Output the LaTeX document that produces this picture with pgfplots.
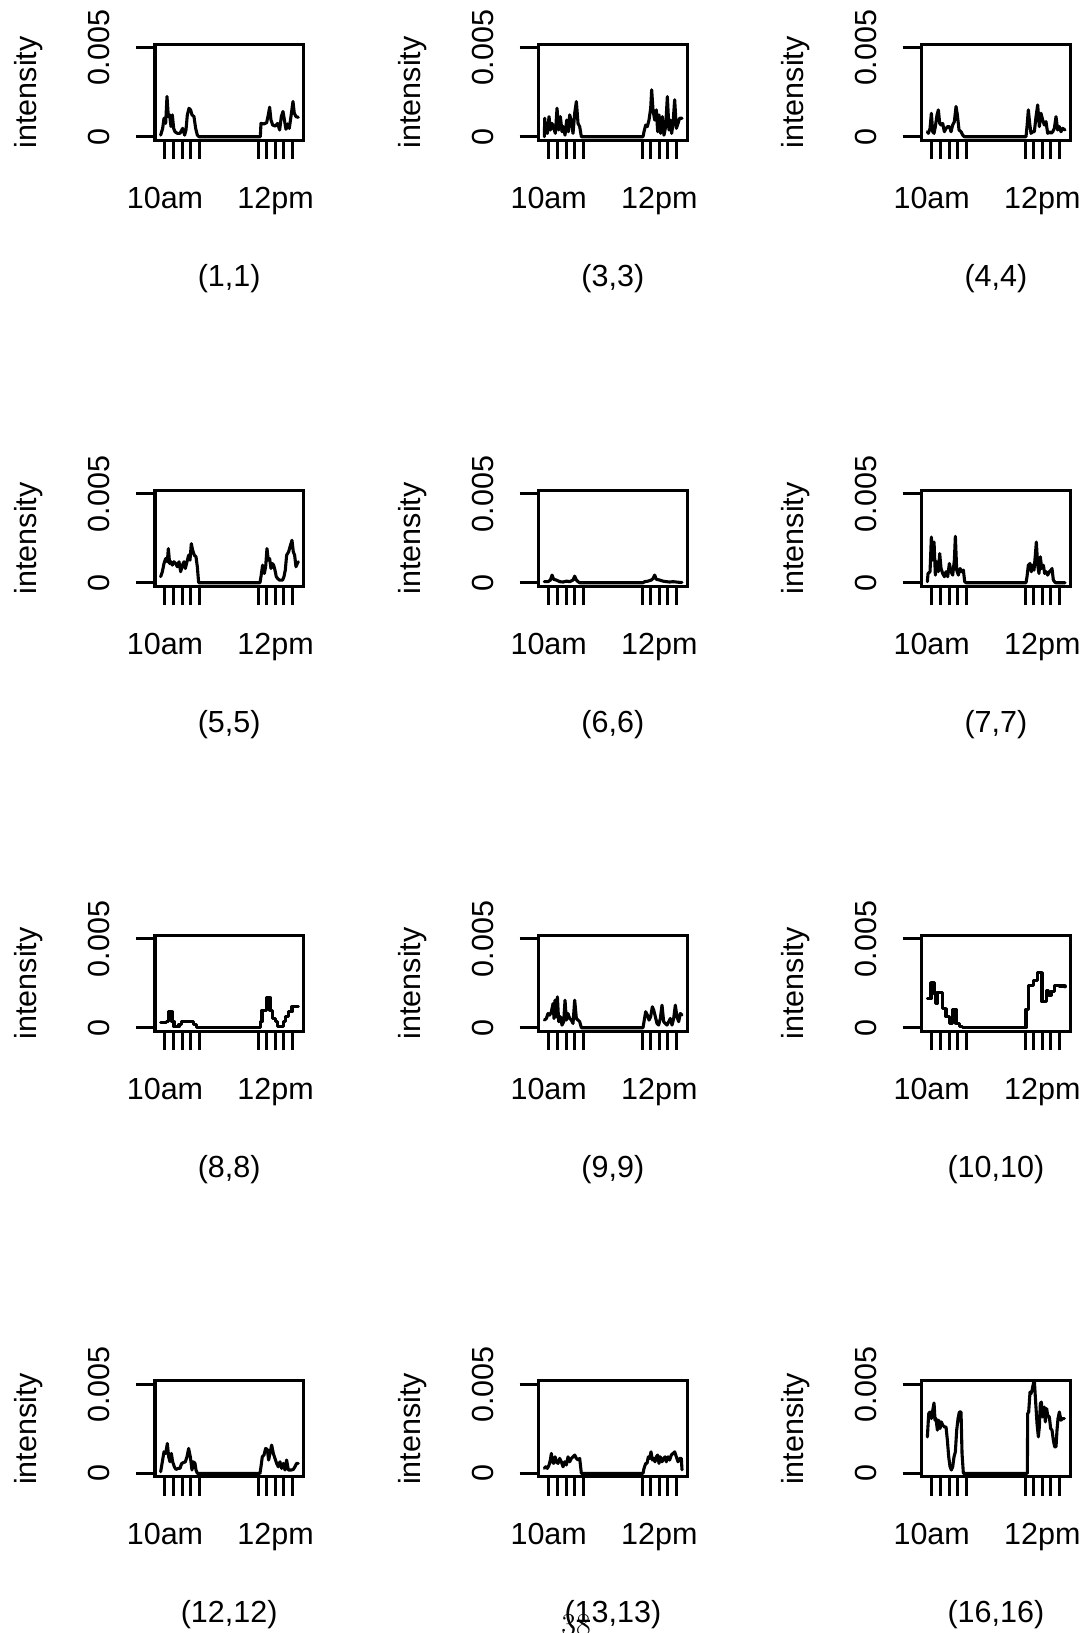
\documentclass[border=0pt]{standalone}
\usepackage{fontspec}
\setsansfont{Liberation Sans}
\renewcommand\familydefault{\sfdefault}
\usepackage{pgfplots}
\pgfplotsset{compat=1.18}
\pgfplotsset{
  panel/.style={
    scale only axis, width=148.3pt, height=96pt, anchor=south west,
    xmin=465, xmax=910, ymin=-0.2, ymax=5.2,
    xtick={495,521,547,572,598,775,801,827,852,878},
    xticklabels={10am,{},{},{},{},{},{},12pm,{},{}},
    ytick={0,5}, yticklabels={0,0.005},
    tick pos=left, tick align=outside, major tick length=19pt,
    major tick style={black, line width=3pt},
    tick style={black, line width=3pt},
    line width=3pt,
    axis line style={line width=3pt},
    xticklabel style={anchor=base, yshift=-49pt, inner sep=0pt},
    yticklabel style={xshift=-37pt, rotate=90, anchor=center, inner sep=0pt},
    xlabel style={at={(axis description cs:0.5,0)}, anchor=base, yshift=-146pt, inner sep=0pt},
    ylabel={intensity},
    ylabel style={at={(axis description cs:-0.852,0.5)}, anchor=center, inner sep=0pt},
  },
  dat/.style={black, line width=3.1pt, line join=round, line cap=round, mark=none},
}
\newcommand{\panel}[5]{%
  \begin{axis}[panel, at={(#1pt,#2pt)}, xlabel={#3}]
  \addplot[dat,#4] coordinates {#5};
  \end{axis}}
\begin{document}
\fontsize{30.5pt}{36pt}\selectfont
\begin{tikzpicture}
\path[use as bounding box] (0pt,0pt) rectangle (1089pt,1633pt);
% row 1
\panel{155}{1492.7}{(1,1)}{}{(482,0.09) (488,0.47) (492,1.04) (497,0.75) (501,2.26) (505,1.13) (509,1.23) (513,0.57) (517,1.23) (521,0.47) (525,0.28) (532,0.19) (540,0.19) (548,0.47) (554,0.09) (558,0.38) (562,1.23) (567,1.6) (572,1.5) (576,1.23) (582,1.13) (587,0.47) (592,0.09) (597,0) (781,0) (783,0.75) (792,0.72) (800,0.79) (805,1.23) (809,1.66) (813,0.94) (818,0.66) (826,0.6) (833,0.75) (839,0.38) (844,1.13) (849,1.42) (853,0.98) (858,0.42) (863,0.72) (868,0.47) (873,1.13) (879,1.98) (883,1.32) (888,1.13) (895,1.09)}
\panel{538.7}{1492.7}{(3,3)}{}{(482,0) (483,1.04) (486,0.28) (491,0.19) (496,1.13) (500,0.38) (505,0.75) (510,0.47) (515,0.19) (520,1.6) (525,0.38) (530,1.13) (535,0.28) (539,0.57) (544,0.09) (549,0.94) (554,0.28) (558,1.23) (563,0.85) (568,0.19) (573,1.32) (578,1.98) (583,0.75) (588,0.57) (593,0) (778,0) (781,0.28) (786,0.66) (791,0.57) (796,0.94) (801,1.6) (804,2.64) (808,1.51) (813,0.94) (818,1.51) (822,0.28) (826,1.23) (831,0.19) (836,1.13) (841,0.09) (846,0.57) (851,2.26) (856,0.38) (860,0.94) (864,0.19) (868,0.75) (873,2.08) (878,0.47) (883,0.75) (888,1.04) (895,1.04)}
\panel{921.7}{1492.7}{(4,4)}{}{(482,0.28) (485,0.19) (490,0.47) (494,1.32) (498,0.28) (502,0.19) (506,0.57) (511,1.23) (515,1.51) (519,0.75) (523,0.66) (528,0.75) (533,0.28) (538,0.47) (543,0.57) (548,0.57) (553,0.28) (558,0.66) (563,0.85) (568,1.7) (572,1.23) (577,0.38) (583,0.28) (588,0.09) (593,0) (778,0) (781,0.57) (785,1.51) (789,0.75) (793,0.19) (798,0.28) (803,0.28) (808,1.13) (813,1.79) (818,0.57) (823,1.32) (828,0.94) (833,0.66) (838,0.85) (843,0.19) (848,0.28) (853,0.19) (858,0.28) (863,0.47) (868,1.13) (873,0.38) (878,0.57) (883,0.28) (888,0.47) (895,0.38)}
% row 2
\panel{155}{1046.7}{(5,5)}{}{(482,0.34) (487,0.62) (492,1.08) (497,1.36) (502,1.18) (505,1.92) (509,1.08) (513,1.18) (517,0.99) (522,1.18) (527,1.08) (532,0.9) (537,1.18) (542,0.62) (547,0.99) (552,1.18) (556,0.8) (561,1.18) (566,1.55) (570,1.27) (574,2.2) (578,1.83) (583,1.55) (588,1.46) (592,0.9) (596,0) (780,0) (783,0.34) (788,0.99) (793,0.52) (797,0.9) (801,1.92) (805,1.27) (809,1.36) (813,0.8) (817,1.08) (821,0.99) (825,0.71) (829,0.34) (833,0.24) (838,0.15) (848,0.15) (852,0.34) (856,0.71) (860,1.55) (866,1.74) (870,2.01) (876,2.39) (880,1.74) (884,1.55) (888,0.9) (892,1.08) (895,1.18)}
\panel{538.7}{1046.7}{(6,6)}{}{(482,0.06) (493,0.06) (500,0.15) (505,0.43) (510,0.19) (518,0.15) (528,0.06) (538,0.04) (548,0.09) (558,0.06) (568,0.15) (573,0.37) (578,0.15) (583,0.06) (588,0) (778,0) (783,0.06) (793,0.09) (803,0.15) (808,0.24) (813,0.43) (818,0.19) (828,0.15) (838,0.09) (848,0.06) (858,0.04) (868,0.06) (878,0.04) (888,0.02) (895,0.02)}
\panel{921.7}{1046.7}{(7,7)}{}{(482,0.06) (484,0.52) (490,0.62) (494,2.57) (498,1.27) (502,2.29) (506,0.43) (510,1.18) (515,0.62) (519,1.64) (523,0.8) (528,0.52) (533,0.34) (538,0.62) (543,0.34) (548,1.08) (553,0.62) (558,0.43) (563,1.27) (566,2.61) (570,0.71) (575,0.43) (580,0.8) (585,0.62) (590,0.71) (594,0.06) (598,0) (778,0) (781,0.34) (785,0.99) (790,1.08) (794,0.62) (798,0.99) (802,0.71) (806,1.55) (809,2.29) (813,0.99) (817,0.52) (821,1.46) (825,0.8) (830,0.99) (834,0.52) (838,0.62) (843,0.43) (848,0.62) (853,0.71) (856,0.8) (860,0.15) (866,0) (895,0)}
% row 3
\panel{155}{601.7}{(8,8)}{const plot}{(482,0.3) (500,0.34) (505,0.9) (516,0.34) (522,0.06) (537,0.19) (545,0.34) (580,0.19) (590,0) (782,0.34) (786,0.99) (800,1.7) (810,0.99) (818,0.52) (826,0.34) (833,0.06) (850,0.34) (857,0.62) (866,0.9) (876,1.18) (895,1.18)}
\panel{538.7}{601.7}{(9,9)}{}{(482,0.43) (488,0.52) (493,0.8) (498,0.71) (503,0.9) (508,1.36) (511,0.52) (514,1.55) (518,0.62) (521,1.74) (525,0.34) (530,0.62) (535,0.15) (540,0.34) (544,1.55) (548,0.43) (553,0.8) (558,0.52) (563,0.43) (568,0.24) (573,1.55) (578,0.52) (583,0.43) (588,0.34) (593,0) (778,0) (781,0.34) (786,0.9) (791,0.71) (796,0.43) (801,0.62) (806,1.18) (810,1.0) (815,0.62) (820,0.24) (825,0.15) (830,0.52) (835,1.27) (840,0.34) (845,0.24) (850,0.15) (855,0.34) (860,0.52) (865,0.15) (870,0.52) (875,1.27) (880,0.62) (885,0.34) (890,0.8) (895,0.71)}
\panel{921.7}{601.7}{(10,10)}{const plot}{(482,1.64) (493,2.54) (503,1.87) (506,1.36) (511,1.97) (528,1.08) (538,0.62) (548,0.24) (558,1.03) (568,0.24) (578,0.06) (588,0) (778,1.04) (786,2.39) (800,2.67) (813,3.1) (826,1.46) (840,2.1) (846,1.83) (853,2.02) (863,2.39) (878,2.35) (895,2.3)}
% row 4
\panel{155}{156.1}{(12,12)}{}{(482,0.09) (487,0.65) (492,1.21) (497,1.12) (502,1.68) (506,0.93) (510,0.65) (514,1.12) (518,0.65) (523,0.37) (528,0.22) (535,0.28) (540,0.28) (545,0.56) (550,0.6) (556,0.65) (561,0.93) (566,1.4) (571,0.93) (576,0.19) (580,0.65) (585,0.56) (588,0.19) (592,0) (780,0) (783,0.37) (787,0.93) (792,1.03) (797,1.4) (802,1.34) (806,0.75) (810,1.12) (815,1.59) (820,1.12) (825,0.84) (830,0.56) (835,0.37) (840,0.65) (845,0.28) (850,0.56) (855,0.19) (860,0.75) (865,0.19) (875,0.19) (880,0.22) (885,0.37) (890,0.56) (895,0.56)}
\panel{538.7}{156.1}{(13,13)}{}{(482,0.28) (486,0.37) (491,0.28) (496,0.47) (500,0.75) (503,1.12) (506,0.65) (510,0.56) (514,0.93) (518,0.65) (523,0.56) (528,0.84) (533,0.65) (538,0.37) (543,0.65) (548,0.47) (553,0.93) (558,0.65) (563,0.84) (568,0.93) (573,1.03) (578,0.84) (583,0.75) (588,0.84) (593,0) (778,0) (781,0.28) (786,0.56) (790,0.56) (794,0.93) (798,0.84) (802,1.21) (806,0.75) (810,0.84) (814,0.65) (818,0.93) (822,1.03) (826,0.56) (830,0.93) (835,0.65) (840,0.84) (844,0.93) (848,0.65) (853,0.93) (858,0.75) (863,1.03) (868,1.12) (873,1.21) (878,0.93) (883,0.65) (888,0.84) (893,0.84) (895,0.2)}
\panel{921.7}{156.1}{(16,16)}{}{(482,2.05) (486,3.36) (490,3.45) (494,3.08) (498,3.54) (502,3.96) (505,2.99) (508,3.08) (512,2.43) (516,2.99) (520,2.52) (524,2.89) (528,2.71) (533,2.61) (538,2.61) (542,1.87) (546,0.93) (550,0.37) (554,0.19) (558,0.37) (562,0.93) (566,1.21) (570,2.43) (574,3.08) (578,3.45) (583,3.45) (586,1.12) (590,0) (782,0) (783,3.36) (786,3.45) (790,4.57) (793,4.48) (796,4.66) (800,5.04) (803,5.22) (806,4.29) (811,2.8) (815,2.05) (818,2.61) (821,3.92) (824,4.01) (828,3.17) (833,3.73) (836,2.89) (840,3.64) (843,3.26) (848,3.17) (852,2.52) (856,2.43) (860,1.87) (864,1.49) (868,1.49) (871,2.43) (874,3.08) (878,3.45) (883,2.99) (888,3.08) (893,3.08)}
\node[font=\rmfamily\fontsize{32pt}{36pt}\selectfont, anchor=north, inner sep=0pt] at (576pt,19pt) {38};
\end{tikzpicture}
\end{document}
